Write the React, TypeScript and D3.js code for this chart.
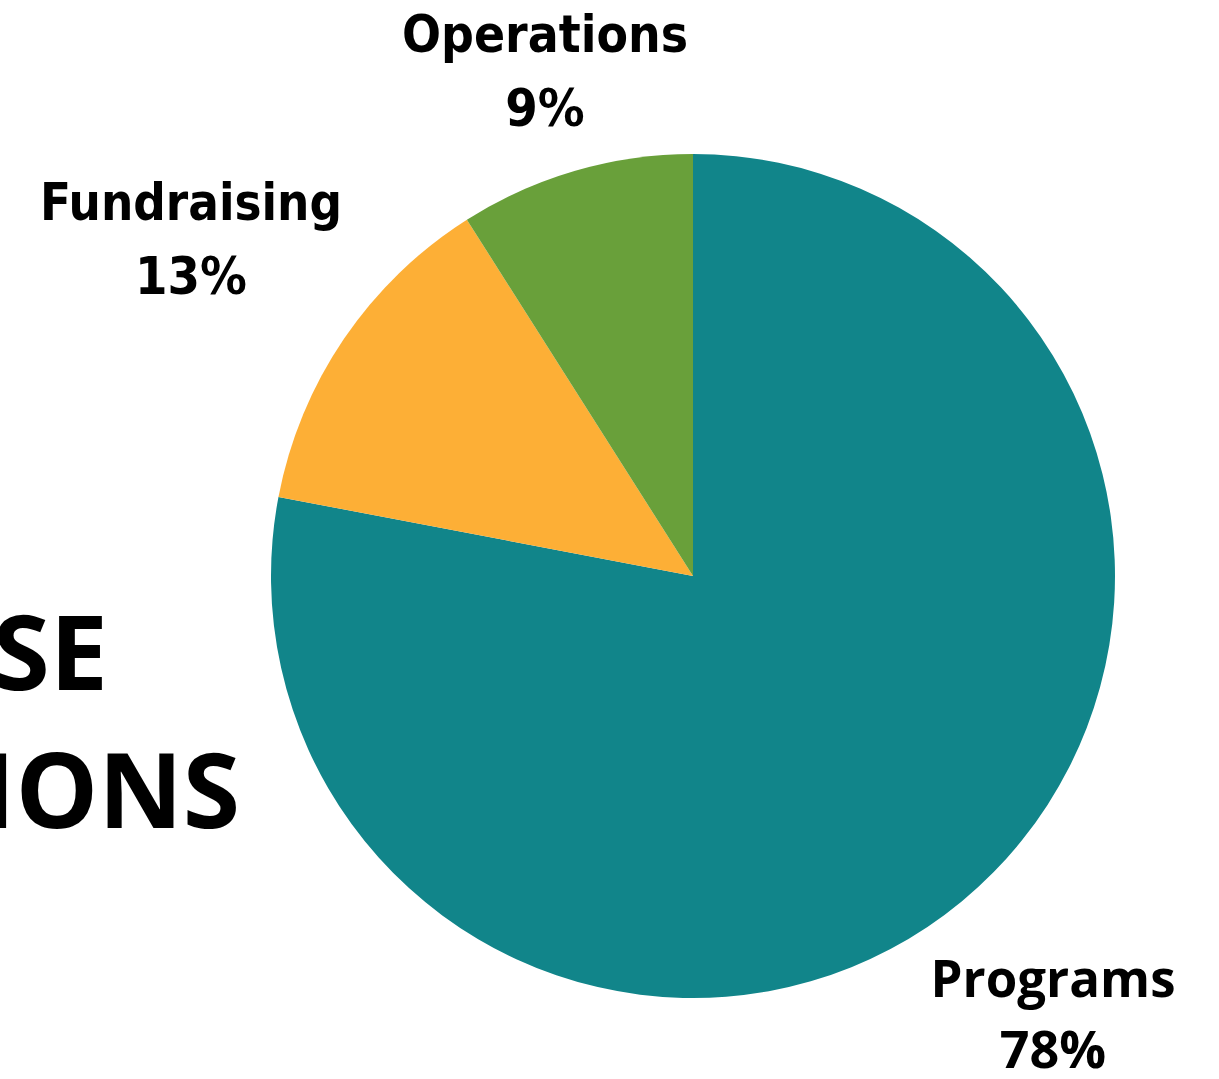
import React, { useEffect, useRef } from 'react';
import * as d3 from 'd3';

const categories = ['Programs', 'Fundraising', 'Operations'];
const shares = [78, 13, 9];
const colors = ['#11858A', '#FDAF36', '#69A03A'];
const titleLines = ['EXPENSE', 'ALLOCATIONS'];

// label placement per slice: [x, nameBaseline, pctBaseline, nameWidth, font]
const labelPos: [number, number, number, number, string][] = [
  [1053, 997, 1068, 245, 'Open Sans, Noto Sans, sans-serif'],
  [191, 220, 294, 302, 'Liberation Sans Narrow, DejaVu Sans Condensed, sans-serif'],
  [545, 52, 126, 286, 'Liberation Sans Narrow, DejaVu Sans Condensed, sans-serif'],
];

const App: React.FC = () => {
  const svgRef = useRef<SVGSVGElement>(null);

  useEffect(() => {
    if (!svgRef.current) return;
    const svg = d3.select(svgRef.current);
    svg.selectAll('*').remove();

    const width = 1219;
    const height = 1079;
    svg.attr('width', width).attr('height', height);

    const cx = 693;
    const cy = 576;
    const radius = 422;

    const pie = d3.pie<number>().sort(null).value((d) => d);
    const arc = d3.arc<d3.PieArcDatum<number>>().innerRadius(0).outerRadius(radius);

    const g = svg.append('g').attr('transform', `translate(${cx},${cy})`);
    g.selectAll('path')
      .data(pie(shares))
      .enter()
      .append('path')
      .attr('d', arc)
      .attr('fill', (_, i) => colors[i]);

    categories.forEach((name, i) => {
      const [x, y1, y2, w, font] = labelPos[i];
      svg
        .append('text')
        .attr('x', x)
        .attr('y', y1)
        .attr('text-anchor', 'middle')
        .attr('font-family', font)
        .attr('font-weight', 'bold')
        .attr('font-size', 52)
        .attr('textLength', w)
        .attr('lengthAdjust', 'spacingAndGlyphs')
        .text(name);
      svg
        .append('text')
        .attr('x', x)
        .attr('y', y2)
        .attr('text-anchor', 'middle')
        .attr('font-family', font)
        .attr('font-weight', 'bold')
        .attr('font-size', 52)
        .text(`${shares[i]}%`);
    });

    const titleRight = [108, 240];
    const titleBase = [690, 828];
    titleLines.forEach((t, i) => {
      svg
        .append('text')
        .attr('x', titleRight[i])
        .attr('y', titleBase[i])
        .attr('text-anchor', 'end')
        .attr('font-family', 'Open Sans, Noto Sans, sans-serif')
        .attr('font-weight', 'bold')
        .attr('font-size', 104)
        .attr('fill', '#000')
        .text(t);
    });
  }, []);

  return (
    <svg
      ref={svgRef}
      style={{ position: 'absolute', left: 0, top: 0, display: 'block' }}
    ></svg>
  );
};

export default App;
